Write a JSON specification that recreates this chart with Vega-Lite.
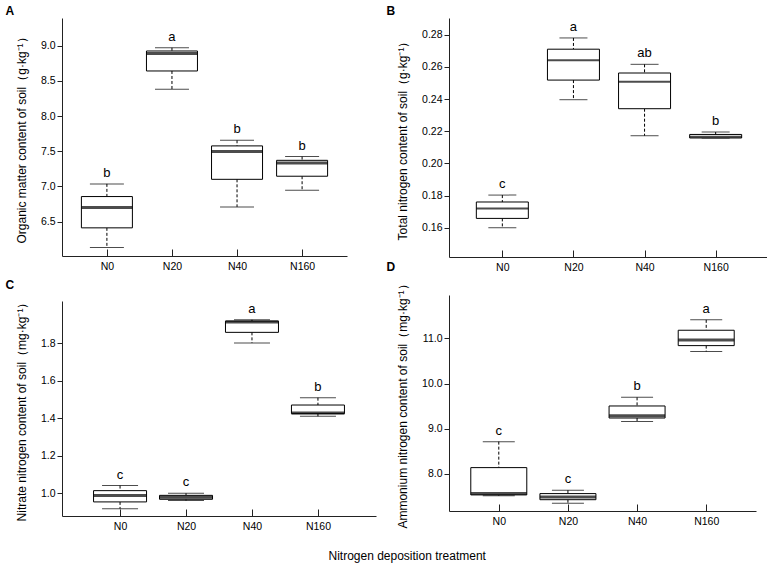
{
  "$schema": "https://vega.github.io/schema/vega-lite/v6.json",
  "padding": {"left": 5, "top": 5, "right": 2, "bottom": 4},
  "background": "white",
  "datasets": {
    "stats": [
      {"panel": "A", "group": "N0", "min": 6.13, "q1": 6.41, "median": 6.70, "q3": 6.855, "max": 7.035, "letter": "b"},
      {"panel": "A", "group": "N20", "min": 8.38, "q1": 8.64, "median": 8.89, "q3": 8.924, "max": 8.97, "letter": "a"},
      {"panel": "A", "group": "N40", "min": 6.708, "q1": 7.10, "median": 7.494, "q3": 7.575, "max": 7.655, "letter": "b"},
      {"panel": "A", "group": "N160", "min": 6.945, "q1": 7.144, "median": 7.333, "q3": 7.37, "max": 7.423, "letter": "b"},
      {"panel": "B", "group": "N0", "min": 0.160, "q1": 0.1658, "median": 0.172, "q3": 0.176, "max": 0.1803, "letter": "c"},
      {"panel": "B", "group": "N20", "min": 0.2396, "q1": 0.2518, "median": 0.2642, "q3": 0.271, "max": 0.278, "letter": "a"},
      {"panel": "B", "group": "N40", "min": 0.2172, "q1": 0.234, "median": 0.2508, "q3": 0.2562, "max": 0.2616, "letter": "ab"},
      {"panel": "B", "group": "N160", "min": 0.2158, "q1": 0.2158, "median": 0.2166, "q3": 0.218, "max": 0.2195, "letter": "b"},
      {"panel": "C", "group": "N0", "min": 0.918, "q1": 0.954, "median": 0.988, "q3": 1.014, "max": 1.041, "letter": "c"},
      {"panel": "C", "group": "N20", "min": 0.961, "q1": 0.968, "median": 0.979, "q3": 0.989, "max": 1.0, "letter": "c"},
      {"panel": "C", "group": "N40", "min": 1.80, "q1": 1.857, "median": 1.912, "q3": 1.917, "max": 1.924, "letter": "a"},
      {"panel": "C", "group": "N160", "min": 1.41, "q1": 1.424, "median": 1.4275, "q3": 1.47, "max": 1.509, "letter": "b"},
      {"panel": "D", "group": "N0", "min": 7.52, "q1": 7.536, "median": 7.565, "q3": 8.14, "max": 8.715, "letter": "c"},
      {"panel": "D", "group": "N20", "min": 7.35, "q1": 7.43, "median": 7.49, "q3": 7.565, "max": 7.64, "letter": "c"},
      {"panel": "D", "group": "N40", "min": 9.16, "q1": 9.238, "median": 9.29, "q3": 9.504, "max": 9.695, "letter": "b"},
      {"panel": "D", "group": "N160", "min": 10.71, "q1": 10.84, "median": 10.963, "q3": 11.18, "max": 11.41, "letter": "a"}
    ]
  },
  "data": {"name": "stats"},
  "title": {"text": "Nitrogen deposition treatment", "orient": "bottom", "anchor": "middle", "font": "Liberation Sans", "fontSize": 12, "fontWeight": "normal", "color": "black", "offset": 19, "dx": 20},
  "spacing": 10,
  "hconcat": [
    {
      "spacing": 7,
      "vconcat": [
        {
          "width": 285, "height": 238,
          "title": {"text": "A", "anchor": "start", "frame": "bounds", "font": "Liberation Sans", "fontSize": 12, "fontWeight": "bold", "color": "black", "dx": -10, "offset": 0},
          "transform": [{"filter": "datum.panel == 'A'"}],
          "encoding": {"x": {"field": "group", "type": "ordinal", "sort": ["N0", "N20", "N40", "N160"], "scale": {"type": "point", "padding": 0.69}, "axis": {"title": null, "labelAngle": 0, "tickSize": -7}}},
          "layer": [
            {"mark": {"type": "rule", "strokeDash": [3, 2], "color": "black", "strokeWidth": 1}, "encoding": {"y": {"field": "max", "type": "quantitative", "scale": {"domain": [6.01, 9.393], "nice": false, "zero": false}, "axis": {"title": "Organic matter content of soil（g·kg⁻¹）", "values": [6.5, 7, 7.5, 8, 8.5, 9], "format": ".1f"}}, "y2": {"field": "q3"}}},
            {"mark": {"type": "rule", "strokeDash": [3, 2], "color": "black", "strokeWidth": 1}, "encoding": {"y": {"field": "q1", "type": "quantitative", "scale": {"domain": [6.01, 9.393], "nice": false, "zero": false}, "axis": {"title": "Organic matter content of soil（g·kg⁻¹）", "values": [6.5, 7, 7.5, 8, 8.5, 9], "format": ".1f"}}, "y2": {"field": "min"}}},
            {"mark": {"type": "tick", "size": 34, "thickness": 1, "color": "black"}, "encoding": {"y": {"field": "max", "type": "quantitative", "scale": {"domain": [6.01, 9.393], "nice": false, "zero": false}, "axis": {"title": "Organic matter content of soil（g·kg⁻¹）", "values": [6.5, 7, 7.5, 8, 8.5, 9], "format": ".1f"}}}},
            {"mark": {"type": "tick", "size": 34, "thickness": 1, "color": "black"}, "encoding": {"y": {"field": "min", "type": "quantitative", "scale": {"domain": [6.01, 9.393], "nice": false, "zero": false}, "axis": {"title": "Organic matter content of soil（g·kg⁻¹）", "values": [6.5, 7, 7.5, 8, 8.5, 9], "format": ".1f"}}}},
            {"mark": {"type": "bar", "size": 51, "fill": "white", "stroke": "black", "strokeWidth": 1}, "encoding": {"y": {"field": "q1", "type": "quantitative", "scale": {"domain": [6.01, 9.393], "nice": false, "zero": false}, "axis": {"title": "Organic matter content of soil（g·kg⁻¹）", "values": [6.5, 7, 7.5, 8, 8.5, 9], "format": ".1f"}}, "y2": {"field": "q3"}}},
            {"mark": {"type": "tick", "size": 51, "thickness": 3, "color": "black"}, "encoding": {"y": {"field": "median", "type": "quantitative", "scale": {"domain": [6.01, 9.393], "nice": false, "zero": false}, "axis": {"title": "Organic matter content of soil（g·kg⁻¹）", "values": [6.5, 7, 7.5, 8, 8.5, 9], "format": ".1f"}}}},
            {"mark": {"type": "text", "baseline": "bottom", "dy": -4, "fontSize": 13, "font": "Liberation Sans", "color": "black"}, "encoding": {"y": {"field": "max", "type": "quantitative", "scale": {"domain": [6.01, 9.393], "nice": false, "zero": false}, "axis": {"title": "Organic matter content of soil（g·kg⁻¹）", "values": [6.5, 7, 7.5, 8, 8.5, 9], "format": ".1f"}}, "text": {"field": "letter"}}}
          ]
        },
        {
          "width": 314, "height": 215,
          "title": {"text": "C", "anchor": "start", "frame": "bounds", "font": "Liberation Sans", "fontSize": 12, "fontWeight": "bold", "color": "black", "dx": -10, "offset": 4},
          "transform": [{"filter": "datum.panel == 'C'"}],
          "encoding": {"x": {"field": "group", "type": "ordinal", "sort": ["N0", "N20", "N40", "N160"], "scale": {"type": "point", "padding": 0.88}, "axis": {"title": null, "labelAngle": 0, "tickSize": -7}}},
          "layer": [
            {"mark": {"type": "rule", "strokeDash": [3, 2], "color": "black", "strokeWidth": 1}, "encoding": {"y": {"field": "max", "type": "quantitative", "scale": {"domain": [0.879, 2.024], "nice": false, "zero": false}, "axis": {"title": "Nitrate nitrogen content of soil（mg·kg⁻¹）", "values": [1.0, 1.2, 1.4, 1.6, 1.8], "format": ".1f"}}, "y2": {"field": "q3"}}},
            {"mark": {"type": "rule", "strokeDash": [3, 2], "color": "black", "strokeWidth": 1}, "encoding": {"y": {"field": "q1", "type": "quantitative", "scale": {"domain": [0.879, 2.024], "nice": false, "zero": false}, "axis": {"title": "Nitrate nitrogen content of soil（mg·kg⁻¹）", "values": [1.0, 1.2, 1.4, 1.6, 1.8], "format": ".1f"}}, "y2": {"field": "min"}}},
            {"mark": {"type": "tick", "size": 36, "thickness": 1, "color": "black"}, "encoding": {"y": {"field": "max", "type": "quantitative", "scale": {"domain": [0.879, 2.024], "nice": false, "zero": false}, "axis": {"title": "Nitrate nitrogen content of soil（mg·kg⁻¹）", "values": [1.0, 1.2, 1.4, 1.6, 1.8], "format": ".1f"}}}},
            {"mark": {"type": "tick", "size": 36, "thickness": 1, "color": "black"}, "encoding": {"y": {"field": "min", "type": "quantitative", "scale": {"domain": [0.879, 2.024], "nice": false, "zero": false}, "axis": {"title": "Nitrate nitrogen content of soil（mg·kg⁻¹）", "values": [1.0, 1.2, 1.4, 1.6, 1.8], "format": ".1f"}}}},
            {"mark": {"type": "bar", "size": 53, "fill": "white", "stroke": "black", "strokeWidth": 1}, "encoding": {"y": {"field": "q1", "type": "quantitative", "scale": {"domain": [0.879, 2.024], "nice": false, "zero": false}, "axis": {"title": "Nitrate nitrogen content of soil（mg·kg⁻¹）", "values": [1.0, 1.2, 1.4, 1.6, 1.8], "format": ".1f"}}, "y2": {"field": "q3"}}},
            {"mark": {"type": "tick", "size": 53, "thickness": 3, "color": "black"}, "encoding": {"y": {"field": "median", "type": "quantitative", "scale": {"domain": [0.879, 2.024], "nice": false, "zero": false}, "axis": {"title": "Nitrate nitrogen content of soil（mg·kg⁻¹）", "values": [1.0, 1.2, 1.4, 1.6, 1.8], "format": ".1f"}}}},
            {"mark": {"type": "text", "baseline": "bottom", "dy": -4, "fontSize": 13, "font": "Liberation Sans", "color": "black"}, "encoding": {"y": {"field": "max", "type": "quantitative", "scale": {"domain": [0.879, 2.024], "nice": false, "zero": false}, "axis": {"title": "Nitrate nitrogen content of soil（mg·kg⁻¹）", "values": [1.0, 1.2, 1.4, 1.6, 1.8], "format": ".1f"}}, "text": {"field": "letter"}}}
          ]
        }
      ]
    },
    {
      "spacing": -13,
      "vconcat": [
        {
          "width": 320, "height": 239,
          "title": {"text": "B", "anchor": "start", "frame": "bounds", "font": "Liberation Sans", "fontSize": 12, "fontWeight": "bold", "color": "black", "dx": -10, "offset": 0},
          "transform": [{"filter": "datum.panel == 'B'"}],
          "encoding": {"x": {"field": "group", "type": "ordinal", "sort": ["N0", "N20", "N40", "N160"], "scale": {"type": "point", "padding": 0.75}, "axis": {"title": null, "labelAngle": 0, "tickSize": -7}}},
          "layer": [
            {"mark": {"type": "rule", "strokeDash": [3, 2], "color": "black", "strokeWidth": 1}, "encoding": {"y": {"field": "max", "type": "quantitative", "scale": {"domain": [0.1418, 0.2904], "nice": false, "zero": false}, "axis": {"title": "Total nitrogen content of soil（g·kg⁻¹）", "values": [0.16, 0.18, 0.20, 0.22, 0.24, 0.26, 0.28], "format": ".2f"}}, "y2": {"field": "q3"}}},
            {"mark": {"type": "rule", "strokeDash": [3, 2], "color": "black", "strokeWidth": 1}, "encoding": {"y": {"field": "q1", "type": "quantitative", "scale": {"domain": [0.1418, 0.2904], "nice": false, "zero": false}, "axis": {"title": "Total nitrogen content of soil（g·kg⁻¹）", "values": [0.16, 0.18, 0.20, 0.22, 0.24, 0.26, 0.28], "format": ".2f"}}, "y2": {"field": "min"}}},
            {"mark": {"type": "tick", "size": 28, "thickness": 1, "color": "black"}, "encoding": {"y": {"field": "max", "type": "quantitative", "scale": {"domain": [0.1418, 0.2904], "nice": false, "zero": false}, "axis": {"title": "Total nitrogen content of soil（g·kg⁻¹）", "values": [0.16, 0.18, 0.20, 0.22, 0.24, 0.26, 0.28], "format": ".2f"}}}},
            {"mark": {"type": "tick", "size": 28, "thickness": 1, "color": "black"}, "encoding": {"y": {"field": "min", "type": "quantitative", "scale": {"domain": [0.1418, 0.2904], "nice": false, "zero": false}, "axis": {"title": "Total nitrogen content of soil（g·kg⁻¹）", "values": [0.16, 0.18, 0.20, 0.22, 0.24, 0.26, 0.28], "format": ".2f"}}}},
            {"mark": {"type": "bar", "size": 52, "fill": "white", "stroke": "black", "strokeWidth": 1}, "encoding": {"y": {"field": "q1", "type": "quantitative", "scale": {"domain": [0.1418, 0.2904], "nice": false, "zero": false}, "axis": {"title": "Total nitrogen content of soil（g·kg⁻¹）", "values": [0.16, 0.18, 0.20, 0.22, 0.24, 0.26, 0.28], "format": ".2f"}}, "y2": {"field": "q3"}}},
            {"mark": {"type": "tick", "size": 52, "thickness": 2, "color": "black"}, "encoding": {"y": {"field": "median", "type": "quantitative", "scale": {"domain": [0.1418, 0.2904], "nice": false, "zero": false}, "axis": {"title": "Total nitrogen content of soil（g·kg⁻¹）", "values": [0.16, 0.18, 0.20, 0.22, 0.24, 0.26, 0.28], "format": ".2f"}}}},
            {"mark": {"type": "text", "baseline": "bottom", "dy": -4, "fontSize": 13, "font": "Liberation Sans", "color": "black"}, "encoding": {"y": {"field": "max", "type": "quantitative", "scale": {"domain": [0.1418, 0.2904], "nice": false, "zero": false}, "axis": {"title": "Total nitrogen content of soil（g·kg⁻¹）", "values": [0.16, 0.18, 0.20, 0.22, 0.24, 0.26, 0.28], "format": ".2f"}}, "text": {"field": "letter"}}}
          ]
        },
        {
          "width": 307, "height": 216,
          "title": {"text": "D", "anchor": "start", "frame": "bounds", "font": "Liberation Sans", "fontSize": 12, "fontWeight": "bold", "color": "black", "dx": -10, "offset": 4},
          "transform": [{"filter": "datum.panel == 'D'"}],
          "encoding": {"x": {"field": "group", "type": "ordinal", "sort": ["N0", "N20", "N40", "N160"], "scale": {"type": "point", "padding": 0.72}, "axis": {"title": null, "labelAngle": 0, "tickSize": -7}}},
          "layer": [
            {"mark": {"type": "rule", "strokeDash": [3, 2], "color": "black", "strokeWidth": 1}, "encoding": {"y": {"field": "max", "type": "quantitative", "scale": {"domain": [7.18, 11.96], "nice": false, "zero": false}, "axis": {"title": "Ammonium nitrogen content of soil（mg·kg⁻¹）", "values": [8, 9, 10, 11], "format": ".1f"}}, "y2": {"field": "q3"}}},
            {"mark": {"type": "rule", "strokeDash": [3, 2], "color": "black", "strokeWidth": 1}, "encoding": {"y": {"field": "q1", "type": "quantitative", "scale": {"domain": [7.18, 11.96], "nice": false, "zero": false}, "axis": {"title": "Ammonium nitrogen content of soil（mg·kg⁻¹）", "values": [8, 9, 10, 11], "format": ".1f"}}, "y2": {"field": "min"}}},
            {"mark": {"type": "tick", "size": 32, "thickness": 1, "color": "black"}, "encoding": {"y": {"field": "max", "type": "quantitative", "scale": {"domain": [7.18, 11.96], "nice": false, "zero": false}, "axis": {"title": "Ammonium nitrogen content of soil（mg·kg⁻¹）", "values": [8, 9, 10, 11], "format": ".1f"}}}},
            {"mark": {"type": "tick", "size": 32, "thickness": 1, "color": "black"}, "encoding": {"y": {"field": "min", "type": "quantitative", "scale": {"domain": [7.18, 11.96], "nice": false, "zero": false}, "axis": {"title": "Ammonium nitrogen content of soil（mg·kg⁻¹）", "values": [8, 9, 10, 11], "format": ".1f"}}}},
            {"mark": {"type": "bar", "size": 56, "fill": "white", "stroke": "black", "strokeWidth": 1}, "encoding": {"y": {"field": "q1", "type": "quantitative", "scale": {"domain": [7.18, 11.96], "nice": false, "zero": false}, "axis": {"title": "Ammonium nitrogen content of soil（mg·kg⁻¹）", "values": [8, 9, 10, 11], "format": ".1f"}}, "y2": {"field": "q3"}}},
            {"mark": {"type": "tick", "size": 56, "thickness": 3, "color": "black"}, "encoding": {"y": {"field": "median", "type": "quantitative", "scale": {"domain": [7.18, 11.96], "nice": false, "zero": false}, "axis": {"title": "Ammonium nitrogen content of soil（mg·kg⁻¹）", "values": [8, 9, 10, 11], "format": ".1f"}}}},
            {"mark": {"type": "text", "baseline": "bottom", "dy": -4, "fontSize": 13, "font": "Liberation Sans", "color": "black"}, "encoding": {"y": {"field": "max", "type": "quantitative", "scale": {"domain": [7.18, 11.96], "nice": false, "zero": false}, "axis": {"title": "Ammonium nitrogen content of soil（mg·kg⁻¹）", "values": [8, 9, 10, 11], "format": ".1f"}}, "text": {"field": "letter"}}}
          ]
        }
      ]
    }
  ],
  "config": {
    "view": {"stroke": null},
    "font": "Liberation Sans",
    "axis": {"grid": false, "domainColor": "#222", "tickColor": "#222", "labelColor": "black", "titleColor": "black", "labelFont": "Liberation Sans", "titleFont": "Liberation Sans", "labelFontSize": 10.5, "titleFontSize": 12, "titleFontWeight": "normal"},
    "axisY": {"tickSize": 5, "labelPadding": 2, "titlePadding": 12},
    "axisX": {"labelPadding": 12}
  }
}
